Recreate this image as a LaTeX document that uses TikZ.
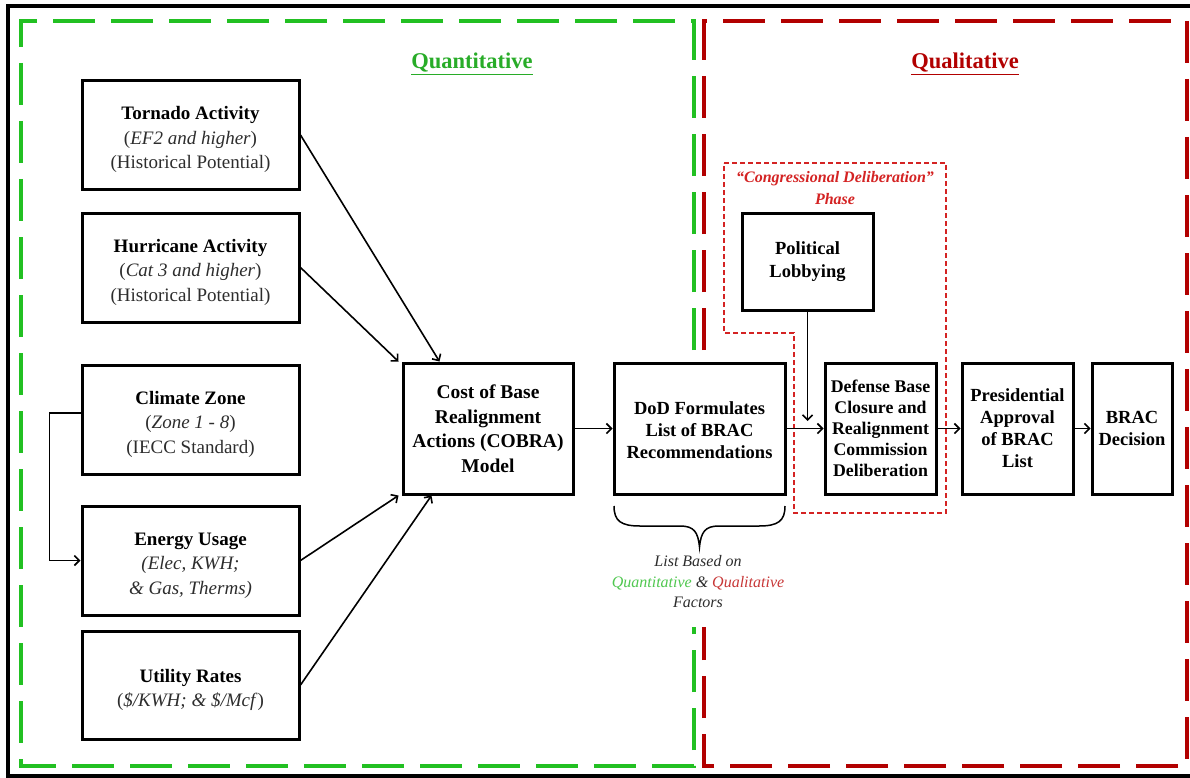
\documentclass[tikz,border=0pt]{standalone}
\usepackage{fontspec}
\setmainfont{Liberation Serif}
\usetikzlibrary{arrows.meta}
\definecolor{qgreen}{RGB}{34,192,34}
\definecolor{qred}{RGB}{178,0,0}
\definecolor{cred}{RGB}{212,35,35}
\definecolor{txtgreen}{RGB}{40,172,40}
\definecolor{txtgray}{RGB}{45,45,45}
\definecolor{lgreen}{RGB}{80,200,80}
\definecolor{lred}{RGB}{200,55,55}
\newcommand\topstrut{\rule{0pt}{23pt}}
\begin{document}
\begin{tikzpicture}[x=1pt,y=-1pt,
  box/.style={draw,line width=3pt,rectangle,inner sep=0pt,align=center,
    font=\fontsize{19}{24.5}\selectfont},
  bbox/.style={box,font=\fontsize{18.5}{22}\selectfont\bfseries},
  conn/.style={line width=1.6pt,-{Straight Barb[length=5pt,width=10pt]}},
  region/.style={line width=4.5pt,dash pattern=on 42pt off 16pt},
  heading/.style={font=\fontsize{22.5}{27}\selectfont\bfseries}]
\useasboundingbox (0,0) rectangle (1190,778);
\clip (0,0) rectangle (1190,778);
\fill[white] (0,0) rectangle (1190,778);
% outer frame
\draw[line width=4pt] (1210,6.5) -- (8,6.5) -- (8,776) -- (1210,776);
% regions
\draw[region,qgreen] (694,350) -- (694,21) -- (21,21) -- (21,766) -- (694,766) -- (694,627);
\draw[region,qred] (704,350) -- (704,21) -- (1187,21) -- (1187,766) -- (704,766) -- (704,627);
\node[heading,text=txtgreen] (qtitle) at (472,64) {\underline{Quantitative}};
\node[heading,text=qred] (ltitle) at (965,64) {\underline{Qualitative}};
% congressional phase
\draw[cred,line width=1.5pt,dash pattern=on 5pt off 3pt]
  (724,163) -- (946,163) -- (946,513) -- (794,513) -- (794,333) -- (724,333) -- cycle;
\node[text=cred,align=center,font=\fontsize{16}{22}\selectfont\bfseries\itshape] (phase) at (835,188)
  {“Congressional Deliberation”\\Phase};
% input boxes
\node[box,minimum width=217,minimum height=108] (tornado) at (190.5,135)
  {\topstrut\textbf{Tornado Activity}\\{\color{txtgray}(\textit{EF2 and higher})}\\{\color{txtgray}(Historical Potential)}};
\node[box,minimum width=217,minimum height=109] (hurricane) at (190.5,267.5)
  {\topstrut\textbf{Hurricane Activity}\\{\color{txtgray}(\textit{Cat 3 and higher})}\\{\color{txtgray}(Historical Potential)}};
\node[box,minimum width=217,minimum height=109] (climate) at (190.5,419.5)
  {\topstrut\textbf{Climate Zone}\\{\color{txtgray}(\textit{Zone 1 - 8})}\\{\color{txtgray}(IECC Standard)}};
\node[box,minimum width=217,minimum height=109] (energy) at (190.5,560.5)
  {\topstrut\textbf{Energy Usage}\\{\color{txtgray}\textit{(Elec, KWH;}}\\{\color{txtgray}\textit{\& Gas, Therms)}}};
\node[box,minimum width=217,minimum height=108] (utility) at (190.5,685)
  {\topstrut\textbf{Utility Rates}\\{\color{txtgray}(\textit{\$/KWH; \& \$/Mcf})}};
% process boxes
\node[box,minimum width=170,minimum height=131,font=\fontsize{19.5}{24.5}\selectfont\bfseries] (cobra) at (488,428.5)
  {Cost of Base\\Realignment\\Actions (COBRA)\\Model};
\node[bbox,minimum width=171,minimum height=131] (dod) at (699.5,428.5)
  {\rule{0pt}{16pt}DoD Formulates\\List of BRAC\\Recommendations};
\node[bbox,minimum width=131,minimum height=97,font=\fontsize{18.5}{23}\selectfont\bfseries] (lobby) at (807.5,261.5)
  {Political\\Lobbying};
\node[bbox,minimum width=111,minimum height=131,font=\fontsize{17.8}{21}\selectfont\bfseries] (defense) at (880.5,428.5)
  {Defense Base\\Closure and\\Realignment\\Commission\\Deliberation};
\node[bbox,minimum width=111,minimum height=131] (pres) at (1017.5,428.5)
  {Presidential\\Approval\\of BRAC\\List};
\node[bbox,minimum width=80,minimum height=131] (brac) at (1132,428.5)
  {BRAC\\Decision};
% connectors
\draw[conn] (tornado.east) -- ([xshift=38pt]cobra.north west);
\draw[conn] (hurricane.east) -- ([xshift=-3pt]cobra.north west);
\draw[conn] (energy.east) -- ([xshift=-3pt]cobra.south west);
\draw[conn] (utility.east) -- ([xshift=30pt]cobra.south west);
\draw[conn] ([yshift=6.5pt]climate.west) -- ++(-31,0) |- (energy.west);
\draw[conn] (cobra.east) -- (dod.west);
\draw[conn] (dod.east) -- (defense.west);
\draw[conn] (defense.east) -- (pres.west);
\draw[conn] (pres.east) -- (brac.west);
\coordinate (lobend) at (807.5,421);
\draw[conn] (lobby.south) -- (lobend);
% brace
\draw[line width=1.5pt] (614,506) .. controls (614,521) and (621,526) .. (640,526) -- (680,526)
  .. controls (694,526) and (698,532) .. (699.5,547)
  .. controls (701,532) and (705,526) .. (719,526) -- (759,526)
  .. controls (778,526) and (785,521) .. (785,506);
\node[text=txtgray,align=center,font=\fontsize{16}{20.5}\selectfont\itshape] (basis) at (698,582)
  {List Based on\\{\color{lgreen}Quantitative} \& {\color{lred}Qualitative}\\Factors};
\end{tikzpicture}
\end{document}
